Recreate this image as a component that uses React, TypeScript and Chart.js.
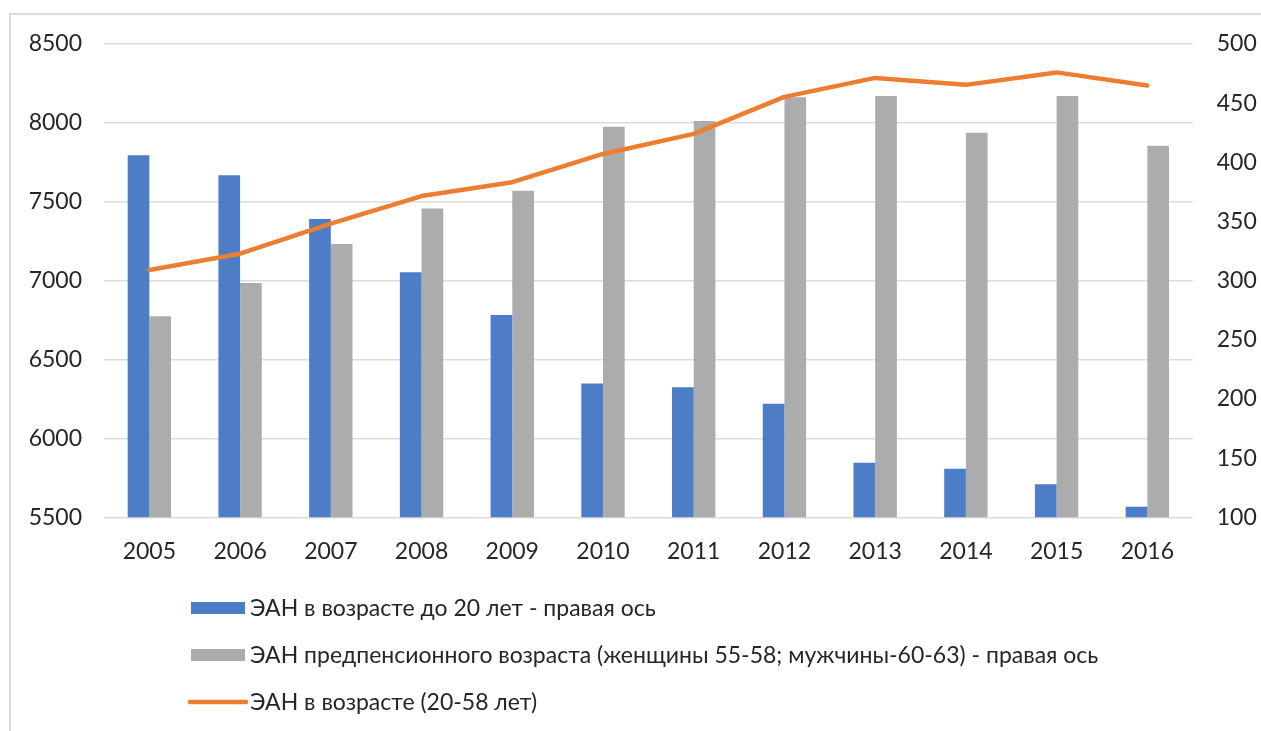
import { useEffect, useRef } from "react";
import { Chart, registerables } from "chart.js";

Chart.register(...registerables);

const years = ["2005", "2006", "2007", "2008", "2009", "2010", "2011", "2012", "2013", "2014", "2015", "2016"];
const under20 = [406, 389, 352, 307, 271, 213, 210, 196, 146, 141, 128, 109];
const prePension = [270, 298, 331, 361, 376, 430, 435, 455, 456, 425, 456, 414];
const age20to58 = [7068, 7171, 7361, 7536, 7624, 7803, 7930, 8165, 8285, 8241, 8320, 8237];

const labelUnder20 = "ЭАН в возрасте до 20 лет - правая ось";
const labelPrePension = "ЭАН предпенсионного возраста (женщины 55-58; мужчины-60-63) - правая ось";
const labelMain = "ЭАН в возрасте (20-58 лет)";

const leftMin = 5500;
const leftMax = 8500;
const leftStep = 500;
const rightMin = 100;
const rightMax = 500;
const rightStep = 50;

const BLUE = "#4e7dc8";
const GRAY = "#acacac";
const ORANGE = "#ed7d31";
const TEXT = "#262626";
const GRID = "#dcdcdc";
const FONT = "Lato, 'Open Sans', sans-serif";

const W = 1261;
const H = 731;

const legendPlugin = {
  id: "stackedLegend",
  afterDraw(chart: any) {
    const ctx = chart.ctx;
    const rows = [608, 655, 702];
    const x0 = 191;
    const x1 = 245;
    ctx.save();
    chart.data.datasets.forEach((ds: any, i: number) => {
      const y = rows[i];
      if (ds.type === "line") {
        ctx.strokeStyle = ds.borderColor;
        ctx.lineWidth = 4.5;
        ctx.lineCap = "round";
        ctx.beginPath();
        ctx.moveTo(x0 - 1, y);
        ctx.lineTo(x1 + 1, y);
        ctx.stroke();
      } else {
        ctx.fillStyle = ds.backgroundColor;
        ctx.fillRect(x0, y - 6, x1 - x0, 12);
      }
      ctx.fillStyle = TEXT;
      ctx.font = `23px ${FONT}`;
      ctx.textBaseline = "middle";
      ctx.textAlign = "left";
      ctx.fillText(ds.label, 250, y + 1);
    });
    ctx.restore();
  },
};

const plain = (v: any) => String(v);

export default function App() {
  const ref = useRef<HTMLCanvasElement | null>(null);

  useEffect(() => {
    if (!ref.current) return;
    const chart = new Chart(ref.current, {
      type: "bar",
      data: {
        labels: years,
        datasets: [
          {
            type: "bar",
            label: labelUnder20,
            data: under20,
            backgroundColor: BLUE,
            yAxisID: "yRight",
            order: 1,
            categoryPercentage: 0.478,
            barPercentage: 1,
          },
          {
            type: "bar",
            label: labelPrePension,
            data: prePension,
            backgroundColor: GRAY,
            yAxisID: "yRight",
            order: 1,
            categoryPercentage: 0.478,
            barPercentage: 1,
          },
          {
            type: "line",
            label: labelMain,
            data: age20to58,
            borderColor: ORANGE,
            backgroundColor: ORANGE,
            borderWidth: 4.5,
            pointRadius: 0,
            tension: 0,
            borderCapStyle: "round",
            borderJoinStyle: "round",
            yAxisID: "yLeft",
            order: 0,
          },
        ],
      } as any,
      plugins: [legendPlugin],
      options: {
        responsive: false,
        animation: false,
        layout: { padding: { top: 44, bottom: 150, left: 0, right: 0 } },
        plugins: {
          legend: { display: false },
          tooltip: { enabled: false },
          title: { display: false },
        },
        scales: {
          x: {
            type: "category",
            offset: true,
            grid: { display: false, drawTicks: false },
            border: { display: false },
            ticks: {
              color: TEXT,
              font: { family: FONT, size: 23 },
              padding: 20,
              maxRotation: 0,
              autoSkip: false,
            },
            afterFit(scale: any) {
              scale.height = 63.7;
            },
          },
          yLeft: {
            type: "linear",
            position: "left",
            min: leftMin,
            max: leftMax,
            grid: { color: GRID, lineWidth: 1.5, drawTicks: false },
            border: { display: false },
            ticks: {
              stepSize: leftStep,
              color: TEXT,
              font: { family: FONT, size: 23 },
              padding: 22,
              callback: plain,
            },
            afterFit(scale: any) {
              scale.width = 104;
            },
          },
          yRight: {
            type: "linear",
            position: "right",
            min: rightMin,
            max: rightMax,
            grid: { display: false, drawTicks: false },
            border: { display: false },
            ticks: {
              stepSize: rightStep,
              color: TEXT,
              font: { family: FONT, size: 23 },
              padding: 24,
              callback: plain,
            },
            afterFit(scale: any) {
              scale.width = 68.3;
            },
          },
        },
      } as any,
    });
    return () => chart.destroy();
  }, []);

  return (
    <div
      style={{
        position: "fixed",
        left: 0,
        top: 0,
        width: W,
        height: H,
        background: "#ffffff",
        overflow: "hidden",
      }}
    >
      <div
        style={{
          position: "absolute",
          left: 9,
          top: 13,
          width: 1320,
          height: 820,
          border: "2px solid #dadada",
          boxSizing: "border-box",
        }}
      />
      <canvas
        ref={ref}
        width={W}
        height={H}
        style={{ position: "absolute", left: 0, top: 0, width: W, height: H }}
      />
    </div>
  );
}
